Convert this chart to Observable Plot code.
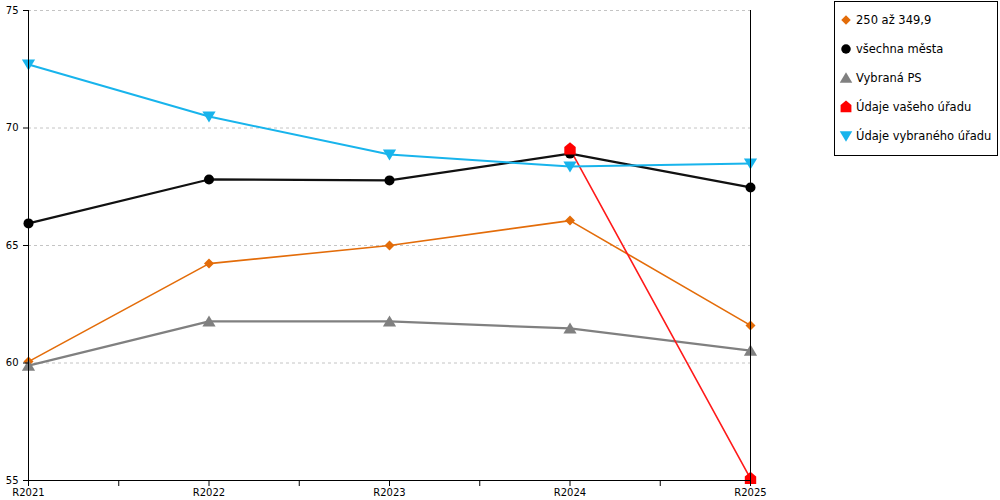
<!DOCTYPE html>
<html><head><meta charset="utf-8">
<script src="https://cdn.jsdelivr.net/npm/d3@7"></script>
<script src="https://cdn.jsdelivr.net/npm/@observablehq/plot@0.6"></script>
<style>
body{margin:0;background:#fff;font-family:"DejaVu Sans",Verdana,sans-serif;}
#wrap{position:relative;width:1000px;height:500px;}
#legend{position:absolute;left:834px;top:1px;width:164px;height:155px;border:1px solid #000;box-sizing:border-box;background:#fff;}
.item{position:absolute;left:4px;font-size:11.5px;display:flex;align-items:center;height:16px;color:#000;white-space:nowrap;}
.item svg{margin-right:3px;}
</style></head><body><div id="wrap"><div id="legend"></div></div>
<script>
const years = ["R2021","R2022","R2023","R2024","R2025"];
const seriesNames = ["250 až 349,9","všechna města","Vybraná PS","Údaje vašeho úřadu","Údaje vybraného úřadu"];
const colors = ["#E36C09","#111111","#808080","#FF1A1A","#18B4EC"];
const markerColors = ["#E36C09","#000000","#808080","#FF0000","#18B4EC"];
const values250 = [60.06, 64.23, 65.0, 66.06, 61.6];
const valuesAll = [65.94, 67.81, 67.77, 68.91, 67.47];
const valuesPS = [59.89, 61.77, 61.77, 61.47, 60.53];
const valuesYours = [null, null, null, 69.1, 55.08];
const valuesSelected = [72.7, 70.49, 68.87, 68.36, 68.49];
const yTicks = [55, 60, 65, 70, 75];

const allValues = [values250, valuesAll, valuesPS, valuesYours, valuesSelected];

// symbol shapes (scaled by k = sqrt(size/pi))
const mk = pts => ({draw(ctx, size){const k = Math.sqrt(size/Math.PI); ctx.moveTo(pts[0][0]*k, pts[0][1]*k); for (let i=1;i<pts.length;i++) ctx.lineTo(pts[i][0]*k, pts[i][1]*k); ctx.closePath();}});
const symDiamond = mk([[0,-1],[1,0],[0,1],[-1,0]]);
const symCircle = {draw(ctx,size){const r=Math.sqrt(size/Math.PI); ctx.moveTo(r,0); ctx.arc(0,0,r,0,2*Math.PI);}};
const symTriUp = mk([[0,-1],[1.1,0.85],[-1.1,0.85]]);
const symHouse = mk([[0,-1.15],[0.95,-0.35],[0.95,0.9],[-0.95,0.9],[-0.95,-0.35]]);
const symTriDown = mk([[-1.1,-0.85],[1.1,-0.85],[0,1]]);
const symbols = [symDiamond, symCircle, symTriUp, symHouse, symTriDown];
const radii = [5, 5, 6, 6, 6];
const widths = [1.6, 2.2, 2.2, 1.6, 2];

const rows = [];
allValues.forEach((vals, s) => vals.forEach((v, i) => { if (v != null) rows.push({s, i, v}); }));

const marks = [
  Plot.gridY(yTicks.slice(1), {stroke: "#c4c4c4", strokeOpacity: 1, strokeDasharray: "3,3", strokeWidth: 1}),
];
seriesNames.forEach((name, s) => {
  const d = rows.filter(r => r.s === s);
  marks.push(Plot.line(d, {x: "i", y: "v", stroke: colors[s], strokeWidth: widths[s]}));
});
seriesNames.forEach((name, s) => {
  const d = rows.filter(r => r.s === s);
  marks.push(Plot.dot(d, {x: "i", y: "v", fill: markerColors[s], stroke: "none", r: radii[s], symbol: () => symbols[s]}));
});
marks.push(
  Plot.ruleX([0, 4], {stroke: "#000", strokeWidth: 1}),
  Plot.ruleY([55], {stroke: "#000", strokeWidth: 1}),
  Plot.axisY({ticks: yTicks, tickSize: 5, tickPadding: 5, fontSize: 10, label: null}),
  Plot.axisX({ticks: d3.range(0, 4.01, 0.5), tickSize: 6, tickPadding: 2, fontSize: 10, label: null,
    tickFormat: d => Number.isInteger(d) ? years[d] : ""})
);

const chart = Plot.plot({
  width: 1000, height: 500,
  marginLeft: 28, marginRight: 250, marginTop: 10, marginBottom: 20,
  style: {fontFamily: '"DejaVu Sans", Verdana, sans-serif', background: "#fff", color: "#000"},
  x: {type: "linear", domain: [0, 4]},
  y: {domain: [55, 75]},
  marks
});
document.getElementById("wrap").prepend(chart);

const legend = document.getElementById("legend");
const offsets = [10, 39, 68, 97, 126];
seriesNames.forEach((name, s) => {
  const div = document.createElement("div");
  div.className = "item";
  div.style.top = offsets[s] + "px";
  const r = radii[s] * 0.95;
  const path = d3.symbol(symbols[s], Math.PI * r * r)();
  div.innerHTML = `<svg width="14" height="16" viewBox="-7 -8 14 16"><path d="${path}" fill="${markerColors[s]}"/></svg><span>${name}</span>`;
  legend.appendChild(div);
});
</script></body></html>
